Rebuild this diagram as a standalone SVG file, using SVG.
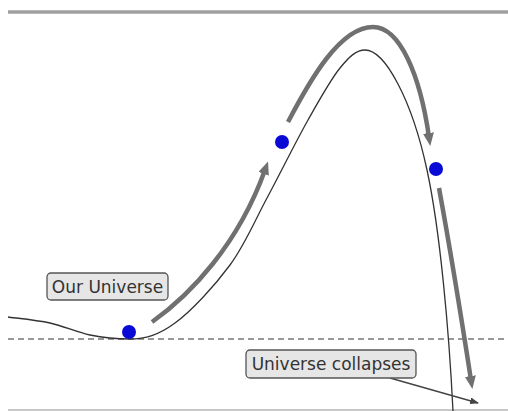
<svg xmlns="http://www.w3.org/2000/svg" width="508" height="411" viewBox="0 0 508 411">
<style>
.thick{fill:none;stroke:#707070;stroke-width:4.5;stroke-linecap:butt}
.thin{fill:none;stroke:#333;stroke-width:1.3}
.dot{fill:#0a0ad6}
.box{fill:#e6e6e6;stroke:#555;stroke-width:1.3}
.lbl{font-family:"DejaVu Sans",sans-serif;font-size:17px;fill:#333;text-anchor:middle}
</style>
<defs>
<marker id="big" markerUnits="userSpaceOnUse" markerWidth="13" markerHeight="11" refX="4" refY="5.5" orient="auto" viewBox="0 0 13 11">
<path d="M0,0 L13,5.5 L0,11 z" fill="#707070"/>
</marker>
<marker id="small" markerUnits="userSpaceOnUse" markerWidth="9" markerHeight="7" refX="8" refY="3.5" orient="auto" viewBox="0 0 9 7">
<path d="M0,0 L9,3.5 L0,7 z" fill="#444"/>
</marker>
</defs>
<rect width="508" height="411" fill="#fff"/>
<g id="frame">
<line x1="8" y1="12" x2="508" y2="12" stroke="#a0a0a0" stroke-width="3.5"/>
<line x1="8" y1="410" x2="508" y2="410" stroke="#c8c8c8" stroke-width="2"/>
<line x1="8" y1="339" x2="508" y2="339" stroke="#333" stroke-width="1.2" stroke-dasharray="6 4"/>
</g>
<g id="potential">
<path class="thin" d="M8,317 C15,318 36.3,320 50,323 C63.7,326 76.7,332.3 90,335 C103.3,337.7 115,339 130,339 C145,339 158.3,335.3 175,323 C191.7,310.7 214.7,285.8 230,265 C245.3,244.2 254,222.2 267,198 C280,173.8 295.8,141.7 308,120 C320.2,98.3 330.5,79.7 340,68 C349.5,56.3 356.3,50 365,50 C385,50 412,100 427,170 C440,230 449,330 453,411"/>
</g>
<g id="connectors">
<path class="thick" d="M152,322 C190,295 238,245 265,170" marker-end="url(#big)"/>
<path class="thick" d="M288,122 C310,80 340,27 373,27 C400,27 420,75 429,137" marker-end="url(#big)"/>
<path class="thick" d="M439,188 Q454,270 471,380" marker-end="url(#big)"/>
<line x1="390" y1="378" x2="478" y2="403" stroke="#444" stroke-width="1.3" marker-end="url(#small)"/>
</g>
<g id="dot1"><circle class="dot" cx="129" cy="332" r="7"/></g>
<g id="dot2"><circle class="dot" cx="282" cy="142" r="7"/></g>
<g id="dot3"><circle class="dot" cx="436" cy="169" r="7"/></g>
<g id="label-our-universe">
<rect class="box" x="47" y="273" width="121" height="27" rx="4"/>
<text class="lbl" x="107.5" y="293">Our Universe</text>
</g>
<g id="label-collapses">
<rect class="box" x="246" y="350" width="170" height="28" rx="4"/>
<text class="lbl" x="331" y="370">Universe collapses</text>
</g>
</svg>
